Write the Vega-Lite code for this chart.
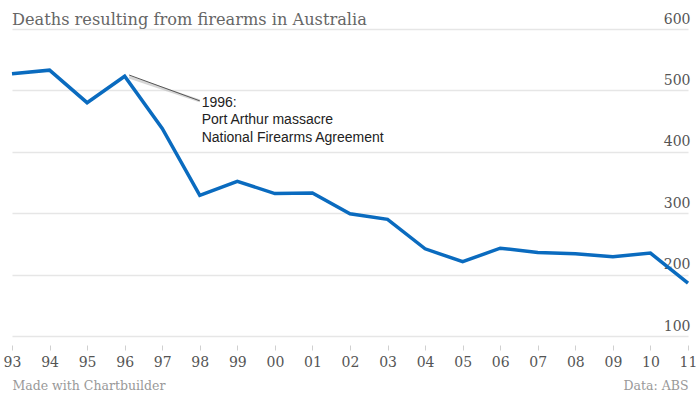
{
  "$schema": "https://vega.github.io/schema/vega-lite/v6.json",
  "width": 676,
  "height": 307,
  "autosize": {"type": "none"},
  "padding": {"left": 12, "top": 29, "right": 12, "bottom": 58},
  "background": "white",
  "title": {
    "text": "Deaths resulting from firearms in Australia",
    "anchor": "start",
    "frame": "group",
    "font": "DejaVu Serif",
    "fontSize": 16.2,
    "fontWeight": "normal",
    "color": "#666666",
    "baseline": "alphabetic",
    "offset": -29
  },
  "config": {"view": {"stroke": null}},
  "datasets": {
    "deaths": [
      {"year": 1993, "deaths": 527},
      {"year": 1994, "deaths": 533},
      {"year": 1995, "deaths": 480},
      {"year": 1996, "deaths": 523},
      {"year": 1997, "deaths": 438},
      {"year": 1998, "deaths": 329},
      {"year": 1999, "deaths": 352},
      {"year": 2000, "deaths": 332},
      {"year": 2001, "deaths": 333},
      {"year": 2002, "deaths": 299},
      {"year": 2003, "deaths": 290},
      {"year": 2004, "deaths": 242},
      {"year": 2005, "deaths": 221},
      {"year": 2006, "deaths": 243},
      {"year": 2007, "deaths": 236},
      {"year": 2008, "deaths": 234},
      {"year": 2009, "deaths": 229},
      {"year": 2010, "deaths": 235},
      {"year": 2011, "deaths": 186}
    ],
    "pointer": [
      {"year": 1996.12, "deaths": 525, "year2": 1998.0, "deaths2": 483}
    ],
    "label": [
      {"year": 1998.05, "deaths": 473, "label": ["1996:", "Port Arthur massacre", "National Firearms Agreement"]}
    ]
  },
  "encoding": {
    "x": {
      "field": "year",
      "type": "quantitative",
      "scale": {"domain": [1993, 2011], "nice": false, "zero": false},
      "axis": {
        "title": "Made with Chartbuilder",
        "titleAnchor": "start",
        "titleAlign": "left",
        "titleBaseline": "alphabetic",
        "titleX": 0,
        "titleY": 44,
        "titleFont": "DejaVu Serif",
        "titleFontSize": 12.5,
        "titleFontWeight": "normal",
        "titleColor": "#999999",
        "values": [1993, 1994, 1995, 1996, 1997, 1998, 1999, 2000, 2001, 2002, 2003, 2004, 2005, 2006, 2007, 2008, 2009, 2010, 2011],
        "labelExpr": "slice(toString(datum.value), 2)",
        "domain": false,
        "grid": false,
        "ticks": true,
        "tickSize": 5,
        "tickColor": "#d0d0d0",
        "offset": 9,
        "labelPadding": 5,
        "labelFont": "DejaVu Serif",
        "labelFontSize": 14,
        "labelColor": "#555555",
        "labelFlush": false,
        "labelOverlap": false
      }
    },
    "y": {
      "field": "deaths",
      "type": "quantitative",
      "scale": {"domain": [100, 600], "nice": false, "zero": false},
      "axis": {
        "orient": "right",
        "values": [100, 200, 300, 400, 500, 600],
        "grid": true,
        "gridColor": "#e6e6e6",
        "gridWidth": 1.5,
        "domain": false,
        "ticks": false,
        "labelAlign": "right",
        "labelPadding": 2,
        "labelBaseline": "alphabetic",
        "labelOffset": -6,
        "labelFont": "DejaVu Serif",
        "labelFontSize": 14,
        "labelColor": "#555555",
        "labelFlush": false,
        "labelOverlap": false,
        "title": "Data: ABS",
        "titleAngle": 0,
        "titleAlign": "right",
        "titleBaseline": "alphabetic",
        "titleX": 0,
        "titleY": 360,
        "titleFont": "DejaVu Serif",
        "titleFontSize": 12.5,
        "titleFontWeight": "normal",
        "titleColor": "#999999"
      }
    }
  },
  "layer": [
    {
      "data": {"name": "deaths"},
      "mark": {"type": "line", "color": "#0a6bbf", "strokeWidth": 3.5}
    },
    {
      "data": {"name": "pointer"},
      "mark": {"type": "rule", "color": "#bbbbbb", "strokeWidth": 3, "opacity": 0.6, "yOffset": 2},
      "encoding": {
        "x2": {"field": "year2"},
        "y2": {"field": "deaths2"}
      }
    },
    {
      "data": {"name": "pointer"},
      "mark": {"type": "rule", "color": "#555555", "strokeWidth": 1},
      "encoding": {
        "x2": {"field": "year2"},
        "y2": {"field": "deaths2"}
      }
    },
    {
      "data": {"name": "label"},
      "mark": {"type": "text", "align": "left", "baseline": "alphabetic", "font": "Liberation Sans", "fontSize": 14, "lineHeight": 17.5, "color": "#222222"},
      "encoding": {
        "text": {"field": "label"}
      }
    }
  ]
}
